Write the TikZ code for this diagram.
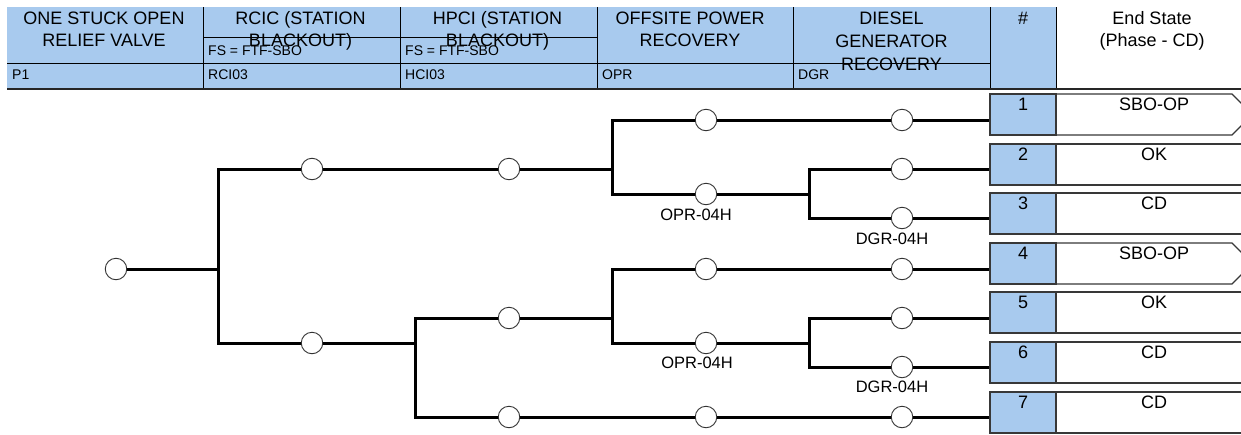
\documentclass[tikz,border=0pt]{standalone}
\usepackage{fontspec}
\setmainfont{Liberation Sans}
\definecolor{hdrblue}{RGB}{168,202,238}
\begin{document}
\begin{tikzpicture}[x=1pt,y=-1pt,
  tree/.style={line width=3pt, line join=miter},
  ev/.style={circle, draw=black!80, line width=0.9pt, fill=white, minimum size=21.5pt, inner sep=0pt},
  hline/.style={draw=black, line width=0.9pt},
  boxline/.style={draw=black!78, line width=1.3pt},
  numbox/.style={rectangle, fill=hdrblue, draw=black!78, line width=1.3pt, minimum width=66pt, minimum height=41pt, inner sep=0pt},
  ttl/.style={font=\fontsize{18}{22}\selectfont, align=center, anchor=north, inner sep=0pt},
  ttlb/.style={font=\fontsize{18}{22}\selectfont, anchor=base, inner sep=0pt},
  sml/.style={font=\fontsize{14}{16}\selectfont, anchor=base west, inner sep=0pt},
  boxtext/.style={font=\fontsize{18}{22}\selectfont, anchor=base, inner sep=0pt},
  lbl/.style={font=\fontsize{16.5}{19}\selectfont, anchor=base, inner sep=0pt}]
\useasboundingbox (0,0) rectangle (1241,434);
% header
\fill[hdrblue] (7,7) rectangle (1056,88);
\foreach \xx in {203,400,597,793,990,1056} {\draw[hline] (\xx,7) -- (\xx,88);}
\draw[hline] (203,37) -- (597,37);
\draw[hline] (7,63) -- (990,63);
\draw[draw=black!85, line width=2pt] (7,88.5) -- (1241,88.5);
\node[ttl] (t1) at (104,11.5) {ONE STUCK OPEN\\RELIEF VALVE};
\node[ttl] (t2) at (300.5,11.5) {RCIC (STATION\\BLACKOUT)};
\node[ttl] (t3) at (497.5,11.5) {HPCI (STATION\\BLACKOUT)};
\node[ttl] (t4) at (690,11.5) {OFFSITE POWER\\RECOVERY};
\node[ttl, font=\fontsize{18}{23}\selectfont] (t5) at (891.5,11.5) {DIESEL\\GENERATOR\\RECOVERY};
\node[ttlb] (t6) at (1023,24.5) {\#};
\node[ttl] (t7) at (1152,11.5) {End State\\(Phase - CD)};
\node[sml] (f2) at (208,55) {FS = FTF-SBO};
\node[sml] (f3) at (405,55) {FS = FTF-SBO};
\node[sml] (c1) at (12,79) {P1};
\node[sml] (c2) at (208,79) {RCI03};
\node[sml] (c3) at (405,79) {HCI03};
\node[sml] (c4) at (602,79) {OPR};
\node[sml] (c5) at (798,79) {DGR};
% end state boxes
\foreach \i/\t/\lab/\arr in {1/94/SBO-OP/1,2/144/OK/0,3/193/CD/0,4/243/SBO-OP/1,5/292/OK/0,6/342/CD/0,7/392/CD/0} {
  \ifnum\arr=1
    \draw[boxline, fill=white] (1056,\t) -- (1232,\t) -- (1252.5,\t+20.5) -- (1232,\t+41) -- (1056,\t+41);
  \else
    \draw[boxline] (1056,\t) -- (1260,\t) (1056,\t+41) -- (1260,\t+41);
  \fi
  \node[numbox] (b\i) at (1023,\t+20.5) {};
  \node[boxtext] (n\i) at (1023,\t+16) {\i};
  \node[boxtext] (s\i) at (1154,\t+16) {\lab};
}
% tree
\node[ev] (I) at (116,269) {};
\coordinate (j1) at (218,269);
\node[ev] (R1) at (312,169) {};
\node[ev] (R2) at (312,343) {};
\draw[tree] (I) -- (j1);
\draw[tree] (R1) -| (j1) |- (R2);
% upper
\node[ev] (H1) at (509,169) {};
\draw[tree] (R1) -- (H1);
\coordinate (j2) at (612,169);
\node[ev] (O1) at (706,120) {};
\node[ev] (O2) at (706,194) {};
\draw[tree] (H1) -- (j2);
\draw[tree] (O1) -| (j2) |- (O2);
\node[ev] (D1) at (902,120) {};
\draw[tree] (O1) -- (D1);
\coordinate (j3) at (809,194);
\draw[tree] (O2) -- (j3);
\node[ev] (D2) at (902,169) {};
\node[ev] (D3) at (902,218) {};
\draw[tree] (D2) -| (j3) |- (D3);
\node[lbl] (L1) at (696,220) {OPR-04H};
\node[lbl] (L2) at (892,244) {DGR-04H};
% lower
\coordinate (j4) at (415,343);
\draw[tree] (R2) -- (j4);
\node[ev] (H2) at (509,318) {};
\node[ev] (H3) at (509,417) {};
\draw[tree] (H2) -| (j4) |- (H3);
\coordinate (j5) at (612,318);
\draw[tree] (H2) -- (j5);
\node[ev] (O3) at (706,269) {};
\node[ev] (O4) at (706,343) {};
\draw[tree] (O3) -| (j5) |- (O4);
\node[ev] (D4) at (902,269) {};
\draw[tree] (O3) -- (D4);
\coordinate (j6) at (809,343);
\draw[tree] (O4) -- (j6);
\node[ev] (D5) at (902,318) {};
\node[ev] (D6) at (902,367) {};
\draw[tree] (D5) -| (j6) |- (D6);
\node[ev] (O5) at (706,417) {};
\node[ev] (D7) at (902,417) {};
\draw[tree] (H3) -- (O5);
\draw[tree] (O5) -- (D7);
\node[lbl] (L3) at (697,368.5) {OPR-04H};
\node[lbl] (L4) at (892,392.5) {DGR-04H};
% to end states
\foreach \d in {1,...,7} {\draw[tree] (D\d) -- (D\d -| b\d.west);}
\end{tikzpicture}
\end{document}
